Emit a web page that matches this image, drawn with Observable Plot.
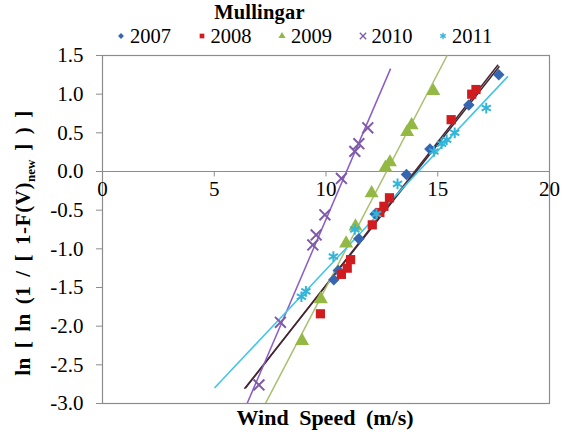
<!DOCTYPE html>
<html><head><meta charset="utf-8">
<script src="https://cdn.jsdelivr.net/npm/d3@7"></script>
<script src="https://cdn.jsdelivr.net/npm/@observablehq/plot@0.6"></script>
<style>
body{margin:0;background:#fff;}
#wrap{position:relative;width:570px;height:434px;font-family:"Liberation Serif","DejaVu Serif","Times New Roman",serif;color:#000;overflow:hidden;}
#chart{position:absolute;top:0;left:0;}
#title{position:absolute;top:1px;left:0;width:519px;text-align:center;font-weight:bold;font-size:20.5px;line-height:23px;letter-spacing:0.2px;}
#legend{position:absolute;top:25px;left:115px;display:flex;font-size:20.5px;line-height:22px;}
.item{display:flex;align-items:center;margin-right:24.5px;}
.item svg{margin-right:3px;}
#ylab{position:absolute;left:25px;top:243px;transform:translate(-50%,-50%) rotate(-90deg);white-space:nowrap;font-weight:bold;font-size:21px;word-spacing:3px;letter-spacing:0.6px;}
#ylab sub{font-size:13px;letter-spacing:0;}
#xlab{position:absolute;top:405px;left:325px;transform:translateX(-50%);white-space:nowrap;font-weight:bold;font-size:22px;word-spacing:5px;}
</style>
</head><body>
<div id="wrap">
  <div id="chart"></div>
  <div id="title">Mullingar</div>
  <div id="legend"></div>
  <div id="ylab">ln [ ln (1 / [ 1-F(V)<sub>new</sub> ] ) ]</div>
  <div id="xlab">Wind Speed (m/s)</div>
</div>
<script>
const years = ["2007","2008","2009","2010","2011"];
const colors = ["#3466b2","#d01c1f","#93b843","#7e5aa8","#33b5d9"];
const symbols = ["diamond2","square","triangle","times","asterisk"];
const xTicks = [0,5,10,15,20];
const yTicks = [-3,-2.5,-2,-1.5,-1,-0.5,0,0.5,1,1.5];

const s2007 = [[10.35,-1.40],[10.55,-1.28],[11.47,-0.87],[12.2,-0.55],[13.6,-0.04],[14.65,0.29],[16.39,0.86],[17.73,1.25]];
const s2008 = [[9.75,-1.84],[10.69,-1.33],[10.95,-1.25],[11.1,-1.14],[12.07,-0.69],[12.41,-0.53],[12.59,-0.45],[12.84,-0.34],[15.6,0.67],[16.52,1.0],[16.71,1.06]];
const s2009 = [[8.93,-2.19],[9.77,-1.65],[10.9,-0.93],[11.32,-0.71],[12.04,-0.28],[12.66,0.05],[12.86,0.12],[13.63,0.51],[13.83,0.6],[14.8,1.04]];
const s2010 = [[7.0,-2.76],[7.96,-1.95],[9.41,-0.95],[9.56,-0.82],[9.95,-0.56],[10.69,-0.09],[11.29,0.26],[11.47,0.36],[11.87,0.565]];
const s2011 = [[8.9,-1.62],[9.1,-1.55],[10.33,-1.1],[11.29,-0.75],[12.26,-0.55],[13.2,-0.16],[14.83,0.26],[15.17,0.36],[15.4,0.41],[15.76,0.5],[17.17,0.82]];
const series = [s2007,s2008,s2009,s2010,s2011];

// trend lines [x1, y1, x2, y2]
const fitColors = ["#3a2b36","#4a2430","#a7c06e","#8a5cc4","#3cc5e8"];
const fits = [[6.35,-2.81,17.76,1.36],[6.4,-2.8,17.7,1.38],[7.29,-3.0,15.42,1.5],[6.47,-3.0,12.89,1.33],[5.01,-2.8,18.14,1.23]];

const fitData = fits.map((f,i)=>({x1:f[0],y1:f[1],x2:f[2],y2:f[3],c:fitColors[i]}));

const gray = "#8c8c8c";
const fontStack = "'Liberation Serif','DejaVu Serif','Times New Roman',serif";
const dotMarks = series.map((s,i)=>{
  const strokeSym = symbols[i]==="times"||symbols[i]==="asterisk";
  return Plot.dot(s,{x:d=>d[0],y:d=>d[1],symbol:symbols[i],r:strokeSym?5:5.2,
    fill:strokeSym?"none":colors[i],stroke:strokeSym?colors[i]:"none",strokeWidth:strokeSym?2:0});
});

const plot = Plot.plot({
  width:570, height:434,
  marginTop:55, marginBottom:31, marginLeft:102, marginRight:21,
  x:{domain:[0,20], axis:null},
  y:{domain:[-3,1.5], axis:null},
  style:{fontFamily:fontStack, fontSize:"21px", background:"white", color:"black"},
  marks:[
    Plot.frame({stroke:gray, strokeWidth:1.2}),
    Plot.ruleY([0],{stroke:gray, strokeWidth:1.2}),
    Plot.ruleX(xTicks,{x:d=>d,y1:0,y2:-0.07,stroke:gray}),
    Plot.text(xTicks,{x:d=>d,y:0,dy:18,text:d=>String(d),fontSize:21,fill:"black"}),
    Plot.axisY({ticks:yTicks,tickFormat:d=>d.toFixed(1),tickSize:6,tickPadding:13,stroke:gray,fill:"black",label:null,fontSize:21}),
    Plot.link(fitData,{x1:"x1",y1:"y1",x2:"x2",y2:"y2",stroke:"c",strokeWidth:1.5,clip:true}),
    ...dotMarks
  ]
});
document.getElementById("chart").appendChild(plot);

// legend
const leg = document.getElementById("legend");
const symMap = {diamond2:d3.symbolDiamond2,square:d3.symbolSquare,triangle:d3.symbolTriangle,times:d3.symbolTimes,asterisk:d3.symbolAsterisk};
years.forEach((yr,i)=>{
  const item = document.createElement("div"); item.className="item";
  const strokeSym = symbols[i]==="times"||symbols[i]==="asterisk";
  const path = d3.symbol(symMap[symbols[i]], strokeSym?28:22)();
  item.innerHTML = `<svg width="12" height="12" viewBox="-6 -6 12 12"><path d="${path}" fill="${strokeSym?"none":colors[i]}" stroke="${strokeSym?colors[i]:"none"}" stroke-width="1.3"/></svg><span>${yr}</span>`;
  leg.appendChild(item);
});
</script>
</body></html>
